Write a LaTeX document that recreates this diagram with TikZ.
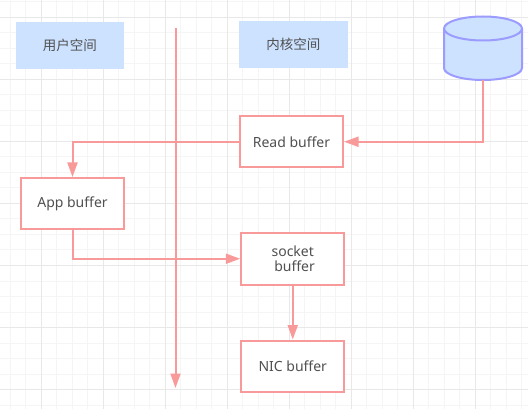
\documentclass[tikz,border=0pt]{standalone}
\usepackage{fontspec}
\setmainfont{Noto Sans}
\newfontfamily\cjk{Noto Sans CJK SC}
\usetikzlibrary{arrows.meta,calc}
\definecolor{salmon}{HTML}{F99A9A}
\definecolor{paleblue}{HTML}{CCE2FF}
\definecolor{violetline}{HTML}{9C9CFF}
\definecolor{inkgrey}{HTML}{505050}
\definecolor{gridminor}{HTML}{F5F5F5}
\definecolor{gridmajor}{HTML}{E8E8E8}
\tikzset{
  spacebox/.style={rectangle,fill=paleblue,draw=none,inner sep=0pt,font=\cjk\fontsize{13.5}{15}\selectfont,text=inkgrey},
  bufferbox/.style={rectangle,draw=salmon,line width=2pt,fill=white,inner sep=0pt,align=center,minimum width=103pt,minimum height=51.5pt,font=\fontsize{14}{16}\selectfont,text=inkgrey},
  flow/.style={draw=salmon,line width=2pt,-{Triangle[length=14.5pt,width=10pt,fill=salmon]}},
  diskline/.style={draw=violetline,line width=2pt,line join=round},
}
\begin{document}
\begin{tikzpicture}[x=1pt,y=-1pt]
\useasboundingbox (0,0) rectangle (528,409);
\foreach \i in {0,...,34}{
  \draw[gridminor,line width=1pt] ({10+15.5*\i},0) -- ({10+15.5*\i},409);
}
\foreach \i in {0,...,26}{
  \draw[gridminor,line width=1pt] (0,{2+15.5*\i}) -- (528,{2+15.5*\i});
}
\foreach \i in {0,...,8}{
  \draw[gridmajor,line width=1pt] ({41+62*\i},0) -- ({41+62*\i},409);
}
\foreach \i in {0,...,6}{
  \draw[gridmajor,line width=1pt] (0,{17.5+62*\i}) -- (528,{17.5+62*\i});
}
\node[spacebox,minimum width=108.5pt,minimum height=47pt] (user) at (69.75,45.5) {用户空间};
\node[spacebox,minimum width=108.5pt,minimum height=47pt] (kernel) at (293.25,44.5) {内核空间};
\node[bufferbox] (read) at (291.5,141.75) {Read buffer};
\node[bufferbox] (app) at (72.5,203.75) {App buffer};
\node[bufferbox] (socket) at (292.75,258.75) {socket\\\ buffer};
\node[bufferbox] (nic) at (292.75,366.25) {NIC buffer};
\node[rectangle,inner sep=0pt,outer sep=0pt,minimum width=78pt,minimum height=63.5pt] (disk) at (483,48.25) {};
\draw[diskline,fill=paleblue] (disk.north west) ++(0,12)
  arc[start angle=180,end angle=0,x radius=39pt,y radius=12pt]
  -- ++(0,39.5)
  arc[start angle=0,end angle=-180,x radius=39pt,y radius=12pt]
  -- cycle;
\draw[diskline] (disk.north west) ++(0,12)
  arc[start angle=180,end angle=360,x radius=39pt,y radius=12pt];
\coordinate (axistop) at (175.5,28);
\coordinate (axisend) at (175.5,388);
\draw[flow] (axistop) -- (axisend);
\draw[flow] (disk.south) |- (read.east);
\draw[flow] (read.west) -| (app.north);
\draw[flow] (app.south) |- (socket.west);
\draw[flow] (socket.south) -- (nic.north);
\end{tikzpicture}
\end{document}
